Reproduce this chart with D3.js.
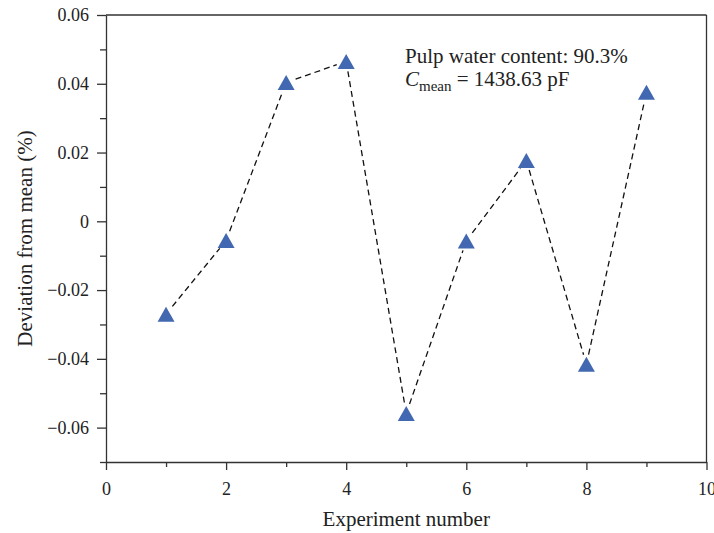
<!DOCTYPE html>
<html><head><meta charset="utf-8">
<script src="https://cdn.jsdelivr.net/npm/d3@7"></script>
<style>body{margin:0;background:#fff}svg text{font-family:"Liberation Serif","Times New Roman",serif;fill:#222}</style>
</head><body>
<svg id="c" width="714" height="533"></svg>
<script>
const experiments = [1, 2, 3, 4, 5, 6, 7, 8, 9];
const deviations = [-0.027, -0.0056, 0.0404, 0.0465, -0.0559, -0.0057, 0.0177, -0.0416, 0.0375];
const xTicks = [0, 2, 4, 6, 8, 10];
const yTicks = [-0.06, -0.04, -0.02, 0, 0.02, 0.04, 0.06];
const xTitle = "Experiment number";
const yTitle = "Deviation from mean (%)";
const noteLine1 = "Pulp water content: 90.3%";

const svg = d3.select("#c");
const L = 106, R = 706.5, T = 15, B = 462;
const x = d3.scaleLinear().domain([0, 10]).range([L, R]);
const y = d3.scaleLinear().domain([-0.07, 0.06]).range([B, T]);
const axisColor = "#333";
const serif = "Liberation Serif, Times New Roman, serif";

const fmt = v => v === 0 ? "0" : (v < 0 ? "\u2212" : "") + Math.abs(v).toFixed(2);

// frame top/right
svg.append("line").attr("x1", L).attr("x2", R).attr("y1", T).attr("y2", T).attr("stroke", axisColor).attr("stroke-width", 1.3);
svg.append("line").attr("x1", R).attr("x2", R).attr("y1", T).attr("y2", B).attr("stroke", axisColor).attr("stroke-width", 1.3);

// minor ticks
const gx = svg.append("g").attr("transform", `translate(0,${B})`);
gx.call(d3.axisBottom(x).tickValues(d3.range(1, 10, 2)).tickSize(5).tickFormat(""));
const gy = svg.append("g").attr("transform", `translate(${L},0)`);
gy.call(d3.axisLeft(y).tickValues([-0.07, -0.05, -0.03, -0.01, 0.01, 0.03, 0.05]).tickSize(6).tickFormat(""));
[gx, gy].forEach(g => g.select(".domain").remove());

// major axes
const ax = svg.append("g").attr("transform", `translate(0,${B})`)
  .call(d3.axisBottom(x).tickValues(xTicks).tickSize(8).tickSizeOuter(0).tickPadding(12).tickFormat(d3.format("d")));
const ay = svg.append("g").attr("transform", `translate(${L},0)`)
  .call(d3.axisLeft(y).tickValues(yTicks).tickSize(9).tickSizeOuter(0).tickPadding(8).tickFormat(fmt));
[ax, ay, gx, gy].forEach(g => {
  g.attr("font-family", serif);
  g.selectAll("line,path").attr("stroke", axisColor).attr("stroke-width", 1.3);
  g.selectAll("text").attr("font-size", 18).attr("font-family", serif).attr("fill", "#222");
});

// dashed segments, shortened near markers
const pts = experiments.map((e, i) => [x(e), y(deviations[i])]);
const gap = 10;
for (let i = 0; i < pts.length - 1; i++) {
  const [x1, y1] = pts[i], [x2, y2] = pts[i + 1];
  const d = Math.hypot(x2 - x1, y2 - y1), ux = (x2 - x1) / d, uy = (y2 - y1) / d;
  svg.append("line")
    .attr("x1", x1 + ux * gap).attr("y1", y1 + uy * gap)
    .attr("x2", x2 - ux * gap).attr("y2", y2 - uy * gap)
    .attr("stroke", "#111").attr("stroke-width", 1.3).attr("stroke-dasharray", "6,4");
}

// triangle markers
const tri = (cx, cy) => `M${cx},${cy - 7.5}L${cx + 8.5},${cy + 7.5}L${cx - 8.5},${cy + 7.5}Z`;
svg.append("g").selectAll("path").data(experiments).join("path")
  .attr("d", (e, i) => tri(x(e), y(deviations[i])))
  .attr("fill", "#4168B0");

// titles
svg.append("text").attr("x", (L + R) / 2).attr("y", 526).attr("text-anchor", "middle").attr("font-size", 21).text(xTitle);
svg.append("text").attr("transform", `translate(32,${(T + B) / 2}) rotate(-90)`).attr("text-anchor", "middle").attr("font-size", 21).text(yTitle);

// annotation
svg.append("text").attr("x", 405).attr("y", 63).attr("font-size", 21).text(noteLine1);
const t2 = svg.append("text").attr("x", 405).attr("y", 86).attr("font-size", 21);
t2.append("tspan").attr("font-style", "italic").text("C");
t2.append("tspan").attr("font-size", 15).attr("dy", 5).text("mean");
t2.append("tspan").attr("dy", -5).text(" = 1438.63 pF");
</script>
</body></html>
